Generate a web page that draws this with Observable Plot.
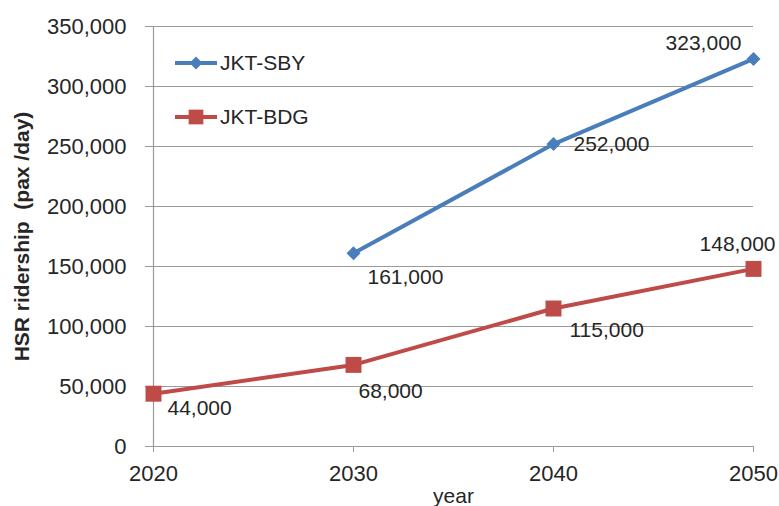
<!DOCTYPE html>
<html>
<head>
<meta charset="utf-8">
<script src="https://cdn.jsdelivr.net/npm/d3@7"></script>
<script src="https://cdn.jsdelivr.net/npm/@observablehq/plot@0.6"></script>
<style>
  html, body { margin: 0; padding: 0; background: #fff; }
  #chart { width: 779px; height: 506px; }
  svg { display: block; }
</style>
</head>
<body>
<div id="chart"></div>
<script>
// Forecast HSR ridership per corridor (passengers per day)
const years = [2020, 2030, 2040, 2050];
const sbyRidership = [null, 161000, 252000, 323000];
const bdgRidership = [44000, 68000, 115000, 148000];
const seriesNames = ["JKT-SBY", "JKT-BDG"];
const yTicks = [0, 50000, 100000, 150000, 200000, 250000, 300000, 350000];

// Label placement around each point: [dx, dy, textAnchor]
const sbyLabelPlacement = [null, [14, 24, "start"], [20, 0, "start"], [-12, -16, "end"]];
const bdgLabelPlacement = [[14, 15, "start"], [5, 26, "start"], [16, 22, "start"], [22, -25, "end"]];

const colors = {"JKT-SBY": "#4a7ebb", "JKT-BDG": "#be4b48"};
const symbols = {"JKT-SBY": {symbol: "diamond2", r: 6.3}, "JKT-BDG": {symbol: "square", r: 9}};
const font = "'Liberation Sans', Arial, sans-serif";
const textColor = "#262626";
const fmt = d3.format(",");

const rows = [];
years.forEach((year, i) => {
  if (sbyRidership[i] != null) rows.push({series: seriesNames[0], year, value: sbyRidership[i], place: sbyLabelPlacement[i]});
  if (bdgRidership[i] != null) rows.push({series: seriesNames[1], year, value: bdgRidership[i], place: bdgLabelPlacement[i]});
});

const marks = [
  Plot.gridY(yTicks, {stroke: "#9a9a9a", strokeOpacity: 1, strokeWidth: 1}),
  Plot.ruleY([0], {stroke: "#9a9a9a", strokeWidth: 1.2}),
  Plot.ruleX([years[0]], {stroke: "#9a9a9a", strokeWidth: 1.2}),
  Plot.axisY({ticks: yTicks, tickFormat: fmt, tickSize: 8, tickPadding: 19, label: null,
    fontSize: 22, fill: textColor, stroke: "#9a9a9a"}),
  Plot.axisX({ticks: years, tickFormat: d => String(d), tickSize: 6, tickPadding: 13, label: null,
    fontSize: 22, fill: textColor, stroke: "#9a9a9a"}),
  Plot.text(["HSR ridership\u00a0 (pax /day)"], {frameAnchor: "left", rotate: -90, dx: -131,
    fontSize: 21, fontWeight: "bold", fill: textColor, textAnchor: "middle"}),
  Plot.text(["year"], {frameAnchor: "bottom", dy: 50, fontSize: 21, fill: textColor, lineAnchor: "middle"})
];

for (const name of seriesNames) {
  const data = rows.filter(d => d.series === name);
  marks.push(Plot.line(data, {x: "year", y: "value", stroke: colors[name], strokeWidth: 4}));
  marks.push(Plot.dot(data, {x: "year", y: "value", fill: colors[name], stroke: "none",
    symbol: symbols[name].symbol, r: symbols[name].r}));
  for (const d of data) {
    const [dx, dy, anchor] = d.place;
    marks.push(Plot.text([d], {x: "year", y: "value", text: r => fmt(r.value), dx, dy,
      textAnchor: anchor, lineAnchor: "middle", fontSize: 21, fill: textColor}));
  }
}

const chart = Plot.plot({
  width: 779,
  height: 506,
  marginLeft: 153,
  marginRight: 26,
  marginTop: 26,
  marginBottom: 60,
  style: {fontFamily: font, background: "#fff", overflow: "visible"},
  x: {domain: [years[0], years[years.length - 1]]},
  y: {domain: [0, yTicks[yTicks.length - 1]]},
  marks
});

// In-plot legend at the upper left of the frame
const svg = d3.select(chart);
const legend = svg.append("g").attr("transform", "translate(175, 63)");
seriesNames.forEach((name, i) => {
  const g = legend.append("g").attr("transform", `translate(0, ${i * 54})`);
  g.append("path").attr("d", "M0,0H42")
    .attr("stroke", colors[name]).attr("stroke-width", 4).attr("fill", "none");
  const s = symbols[name];
  const type = s.symbol === "square" ? d3.symbolSquare : d3.symbolDiamond2;
  g.append("path").attr("transform", "translate(21, 0)")
    .attr("d", d3.symbol(type, Math.PI * s.r * s.r * 0.85)())
    .attr("fill", colors[name]);
  g.append("text").attr("transform", "translate(45, 0)").attr("dy", "0.35em")
    .attr("text-anchor", "start")
    .style("font-size", "21px").style("fill", textColor).style("font-family", font)
    .text(name);
});

document.getElementById("chart").appendChild(chart);
</script>
</body>
</html>
